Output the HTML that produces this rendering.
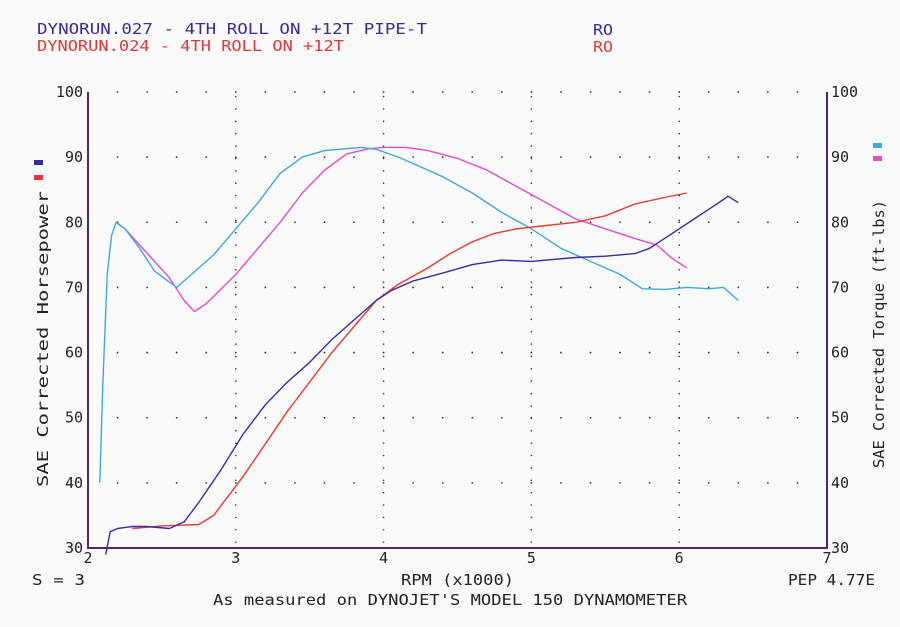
<!DOCTYPE html>
<html><head><meta charset="utf-8"><style>
body{margin:0;background:#fafafa;}
svg{display:block;font-family:"DejaVu Sans Mono","Liberation Mono",monospace;}
</style></head><body>
<svg id="c" width="900" height="627" viewBox="0 0 900 627">
<rect width="900" height="627" fill="#fafafa"/>
<text x="37" y="34" font-size="15" textLength="390" lengthAdjust="spacingAndGlyphs" fill="#3a2a9a">DYNORUN.027 - 4TH ROLL ON +12T PIPE-T</text>
<text x="593" y="35" font-size="15" textLength="20" lengthAdjust="spacingAndGlyphs" fill="#3a2a9a">RO</text>
<text x="37" y="51" font-size="15" textLength="307" lengthAdjust="spacingAndGlyphs" fill="#e2383a">DYNORUN.024 - 4TH ROLL ON +12T</text>
<text x="593" y="52" font-size="15" textLength="20" lengthAdjust="spacingAndGlyphs" fill="#e2383a">RO</text>
<g id="grid"></g>
<g id="axes"></g>
<g id="lines"></g>
<text transform="translate(48,339) rotate(-90)" text-anchor="middle" font-size="15" textLength="296" lengthAdjust="spacingAndGlyphs" fill="#222">SAE Corrected Horsepower</text>
<text transform="translate(884,334) rotate(-90)" text-anchor="middle" font-size="15" textLength="268" lengthAdjust="spacingAndGlyphs" fill="#222">SAE Corrected Torque (ft-lbs)</text>
<rect x="34" y="160" width="9" height="5" fill="#3a2a9a"/>
<rect x="34" y="175" width="9" height="5" fill="#e2383a"/>
<rect x="873" y="143" width="9" height="5" fill="#3fa8e0"/>
<rect x="873" y="156" width="9" height="5" fill="#e84cc8"/>
<text x="401" y="585" font-size="15" textLength="113" lengthAdjust="spacingAndGlyphs" fill="#222">RPM (x1000)</text>
<text x="32" y="585" font-size="15" textLength="53" lengthAdjust="spacingAndGlyphs" fill="#222">S = 3</text>
<text x="788" y="585" font-size="15" textLength="87" lengthAdjust="spacingAndGlyphs" fill="#222">PEP 4.77E</text>
<text x="213" y="605" font-size="15" textLength="474" lengthAdjust="spacingAndGlyphs" fill="#222">As measured on DYNOJET'S MODEL 150 DYNAMOMETER</text>
</svg>
<script>
const xTicks=[2,3,4,5,6,7];
const yTicks=[30,40,50,60,70,80,90,100];
const hp027Rpm=[2.12,2.15,2.2,2.3,2.4,2.55,2.65,2.75,2.9,3.05,3.2,3.35,3.5,3.65,3.8,3.95,4.05,4.2,4.4,4.6,4.8,5.0,5.1,5.3,5.5,5.7,5.8,5.9,6.0,6.1,6.2,6.3,6.33,6.4];
const hp027=[29,32.5,33,33.3,33.3,33,34,37,42,47.5,52,55.5,58.5,62,65,68,69.5,71,72.2,73.5,74.2,74,74.2,74.6,74.8,75.2,76,77.5,79,80.5,82,83.5,84,83];
const hp024Rpm=[2.3,2.5,2.75,2.85,2.95,3.05,3.2,3.35,3.5,3.65,3.8,3.95,4.1,4.3,4.45,4.6,4.75,4.9,5.1,5.3,5.5,5.7,5.9,6.05];
const hp024=[33,33.4,33.6,35,38,41,46,51,55.5,60,64,68,70.5,73,75.2,77,78.3,79,79.5,80,81,82.8,83.8,84.5];
const tq027Rpm=[2.08,2.1,2.13,2.16,2.19,2.25,2.35,2.45,2.6,2.7,2.85,3.0,3.15,3.3,3.45,3.6,3.75,3.85,3.95,4.1,4.25,4.4,4.6,4.8,5.0,5.2,5.4,5.6,5.75,5.9,6.05,6.2,6.3,6.4];
const tq027=[40,55,72,78,80,79,76,72.5,70,72,75,79,83,87.5,90,91,91.3,91.5,91.2,90,88.5,87,84.5,81.5,79,76,74,72,69.8,69.7,70,69.8,70,68];
const tq024Rpm=[2.19,2.25,2.35,2.45,2.55,2.65,2.72,2.8,3.0,3.15,3.3,3.45,3.6,3.75,3.9,4.0,4.15,4.3,4.5,4.7,4.9,5.1,5.3,5.5,5.7,5.85,5.95,6.05];
const tq024=[80,79,76.5,74,71.5,68,66.3,67.5,72,76,80,84.5,88,90.5,91.3,91.5,91.5,91,89.8,88,85.5,83,80.5,79,77.5,76.5,74.5,73];
const NS='http://www.w3.org/2000/svg';
const X0=88,X1=827,Y0=548,Y1=92;
function xs(v){return X0+(v-2)/5*(X1-X0);}
function ys(v){return Y0-(v-30)/70*(Y0-Y1);}
function mk(t,a,p){const e=document.createElementNS(NS,t);for(const k in a)e.setAttribute(k,a[k]);document.getElementById(p).appendChild(e);return e;}
for(const t of yTicks){for(let r=2.2;r<6.99;r+=0.2){const d=mk('circle',{cx:xs(r),cy:ys(t),r:0.9,fill:'#333'},'grid');

}}
for(const t of xTicks.slice(1,5)){for(let v=30.9;v<100;v+=1.9){const d=mk('circle',{cx:xs(t),cy:ys(v),r:0.8,fill:'#333'},'grid');

}}
let a=mk('path',{d:`M${X0},${Y1} V${Y0} H${X1} V${Y1}`,fill:'none',stroke:'#4a2a6a','stroke-width':2},'axes');


for(const t of xTicks){const e=mk('text',{x:xs(t),y:Y0+15,'text-anchor':'middle','font-size':15,fill:'#222'},'axes');e.textContent=t;

}
for(const t of yTicks){const e=mk('text',{x:X0-5,y:ys(t)+5,'text-anchor':'end','font-size':15,fill:'#222'},'axes');e.textContent=t;


const f=mk('text',{x:X1+4,y:ys(t)+5,'font-size':15,fill:'#222'},'axes');f.textContent=t;

}
function line(rx,vy,col,name){const d=rx.map((r,i)=>(i?'L':'M')+xs(r).toFixed(1)+','+ys(vy[i]).toFixed(1)).join(' ');
const p=mk('path',{d:d,fill:'none',stroke:col,'stroke-width':1.4,'stroke-linejoin':'round'},'lines');

}
line(tq024Rpm,tq024,'#e84cc8','torque-line-024');
line(tq027Rpm,tq027,'#3fa8e0','torque-line-027');
line(hp024Rpm,hp024,'#ee3b2e','hp-line-024');
line(hp027Rpm,hp027,'#3a2aa8','hp-line-027');
</script>
</body></html>
